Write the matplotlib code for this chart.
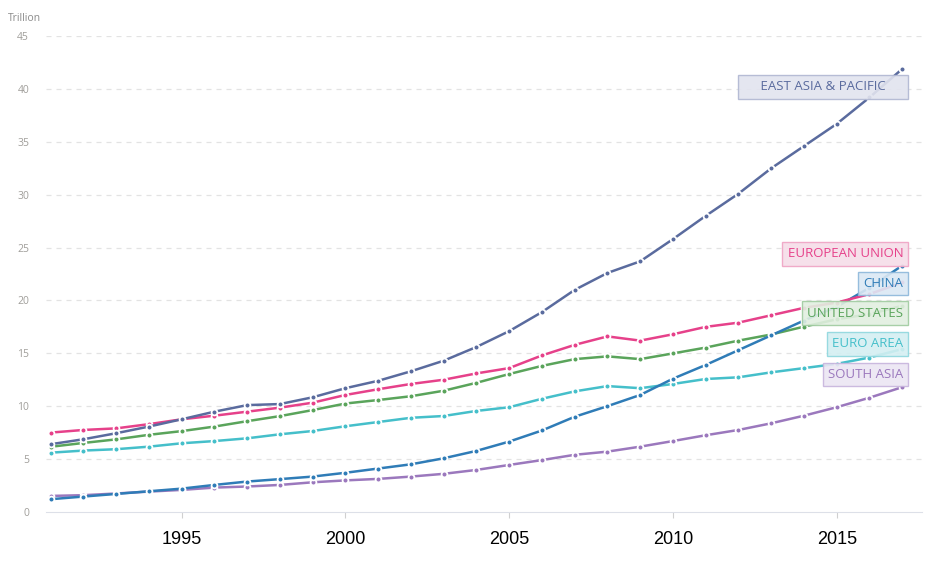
import matplotlib
matplotlib.use("Agg")
import matplotlib.pyplot as plt

years = list(range(1991, 2018))

east_asia = [6.4, 6.87, 7.44, 8.07, 8.76, 9.48, 10.1, 10.2, 10.84, 11.7,
             12.4, 13.3, 14.3, 15.6, 17.1, 18.9, 21.0, 22.6, 23.7, 25.8,
             28.0, 30.1, 32.5, 34.6, 36.7, 39.2, 41.9]
european_union = [7.5, 7.75, 7.9, 8.3, 8.76, 9.1, 9.48, 9.86, 10.33, 11.06,
                  11.6, 12.1, 12.5, 13.1, 13.6, 14.8, 15.8, 16.6, 16.2, 16.8,
                  17.5, 17.9, 18.6, 19.3, 19.8, 20.6, 21.7]
china = [1.2, 1.45, 1.7, 1.95, 2.2, 2.55, 2.87, 3.1, 3.34, 3.7,
         4.1, 4.5, 5.07, 5.77, 6.65, 7.7, 9.0, 10.0, 11.06, 12.6,
         13.9, 15.3, 16.7, 18.1, 19.4, 21.2, 23.3]
united_states = [6.16, 6.52, 6.86, 7.29, 7.64, 8.07, 8.58, 9.06, 9.63, 10.25,
                 10.58, 10.94, 11.46, 12.21, 13.04, 13.81, 14.45, 14.71, 14.45, 14.99,
                 15.54, 16.2, 16.78, 17.52, 18.22, 18.71, 19.49]
euro_area = [5.6, 5.8, 5.93, 6.17, 6.49, 6.7, 6.96, 7.34, 7.65, 8.1,
             8.5, 8.9, 9.07, 9.55, 9.9, 10.7, 11.4, 11.9, 11.7, 12.1,
             12.57, 12.73, 13.2, 13.6, 14.0, 14.6, 15.4]
south_asia = [1.51, 1.58, 1.74, 1.92, 2.08, 2.3, 2.4, 2.55, 2.8, 2.98,
              3.12, 3.34, 3.6, 3.97, 4.44, 4.9, 5.4, 5.7, 6.17, 6.7,
              7.25, 7.75, 8.38, 9.1, 9.9, 10.8, 11.8]

# name, values, line colour, label fill, label edge, label y
series = [
    ("SOUTH ASIA", south_asia, "#9b78bd", "#ece6f3", "#c7b4dd", 13.0),
    ("EURO AREA", euro_area, "#45bfca", "#d4eff2", "#8fd7de", 15.9),
    ("UNITED STATES", united_states, "#5aa45b", "#e1efe0", "#9fcb9f", 18.8),
    ("CHINA", china, "#2f7cb7", "#dbe8f4", "#8db7da", 21.6),
    ("EUROPEAN UNION", european_union, "#e6418a", "#f6dde8", "#efa3c4", 24.4),
    ("EAST ASIA & PACIFIC", east_asia, "#5a6b9e", "#e2e4ef", "#b0b7d2", 40.2),
]

fig = plt.figure(figsize=(9.34, 5.65), dpi=100)
ax = fig.add_axes([0.049, 0.094, 0.938, 0.842])

for name, vals, color, fill, edge, ly in series:
    ax.plot(years, vals, color=color, lw=1.8, marker="o", ms=4.2,
            mfc=color, mec="white", mew=1.3, zorder=3)

for name, vals, color, fill, edge, ly in series:
    text = name
    if name.startswith("EAST ASIA"):
        # this box is drawn wider than its text in the original
        text = "     " + name + "     "
    ax.annotate(text, xy=(2017.2, ly), xytext=(-4, 0), textcoords="offset points",
                ha="right", va="center", fontsize=9.5, family="Open Sans",
                color=color, zorder=5,
                bbox=dict(boxstyle="square,pad=0.4", fc=fill, ec=edge, lw=1, alpha=0.9))

ax.set_xlim(1990.85, 2017.6)
ax.set_ylim(0, 45)
ax.set_yticks(range(0, 46, 5))
ax.set_xticks([1995, 2000, 2005, 2010, 2015])
ax.tick_params(axis="y", length=0, pad=12, labelsize=7.5, labelcolor="#a09e9a")
ax.tick_params(axis="x", length=4, color="#d0d0d0", pad=10, labelsize=13)
for lab in ax.get_xticklabels():
    lab.set_family("Liberation Sans")
for lab in ax.get_yticklabels():
    lab.set_family("Open Sans")

for v in range(5, 46, 5):
    ax.axhline(v, color="#e3e3e3", lw=0.9, ls=(0, (4, 4)), zorder=1)

for side in ["left", "right", "top"]:
    ax.spines[side].set_visible(False)
ax.spines["bottom"].set_color("#dde0e8")

fig.text(0.009, 0.967, "Trillion", fontsize=7.5, color="#8a8a8a", family="Open Sans",
         ha="left", va="center")

fig.savefig("out.png", dpi=100)
